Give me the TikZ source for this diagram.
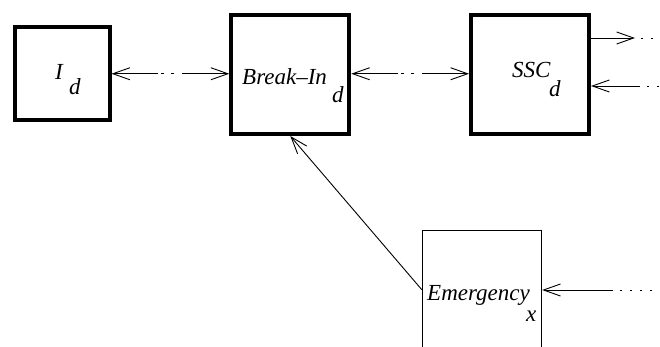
\documentclass[tikz,border=0pt]{standalone}
\usepackage{fontspec}
\setmainfont{Liberation Serif}
\usetikzlibrary{arrows.meta}

\tikzset{
  barb/.tip={Straight Barb[length=17pt,width=12pt]},
  heavybox/.style={draw, line width=4pt, minimum width=118pt, minimum height=118.5pt},
  lightbox/.style={draw, line width=0.8pt, minimum width=119.5pt, minimum height=119.5pt},
  link/.style={line width=0.9pt},
  dashlink/.style={link, dash pattern=on 45pt off 3pt on 3pt off 7pt on 3pt off 8pt on 80pt},
  dotlink/.style={line width=0.9pt, dash pattern=on 2pt off 8pt},
  lbl/.style={anchor=base west, inner sep=0pt, font=\fontsize{23}{27}\selectfont\itshape}
}

\begin{document}
\begin{tikzpicture}[x=1pt, y=-1pt]
\useasboundingbox (0,0) rectangle (660,347);

% ======================
% Boxes
% ======================
\node[heavybox, minimum width=95pt, minimum height=93.5pt] (id) at (62,73.75) {};
\node[heavybox] (brk) at (290.25,74.75) {};
\node[heavybox] (ssc) at (530,74.75) {};
\node[lightbox] (em) at (482,289.75) {};

% ======================
% Labels (subscripts set apart)
% ======================
\node[lbl] (idtxt) at (55,80) {I};
\node[lbl] (idsub) at (69,95) {d};
\node[lbl] (brktxt) at (242,85) {Break--In};
\node[lbl] (brksub) at (332,103) {d};
\node[lbl] (ssctxt) at (512,78) {SSC};
\node[lbl] (sscsub) at (549,97) {d};
\node[lbl] (emtxt) at (427,300) {Emergency};
\node[lbl] (emsub) at (526,321) {x};

% ======================
% Free ends on the right
% ======================
\coordinate (outtip) at (635,38);
\coordinate (outend) at (662,38);
\coordinate (inbeg) at (640,86);
\coordinate (inend) at (662,86);
\coordinate (embeg) at (613,290);
\coordinate (emend) at (664,290);

% ======================
% Links
% ======================
\draw[dashlink, barb-barb] (id.east) -- (id.east -| brk.west);
\draw[dashlink, barb-barb] (brk.east |- id.east) -- (ssc.west |- id.east);

\draw[link, -barb] (ssc.east |- outtip) -- (outtip);
\draw[dotlink] ([xshift=6pt]outtip) -- (outend);

\draw[link, -barb] (inbeg) -- (ssc.east |- inbeg);
\draw[dotlink] ([xshift=7pt]inbeg) -- (inend);

\draw[link, -barb] (embeg) -- (em.east |- embeg);
\draw[dotlink] ([xshift=7pt]embeg) -- (emend);

\draw[link, -barb] (em.west) -- (brk.south);

\end{tikzpicture}
\end{document}
